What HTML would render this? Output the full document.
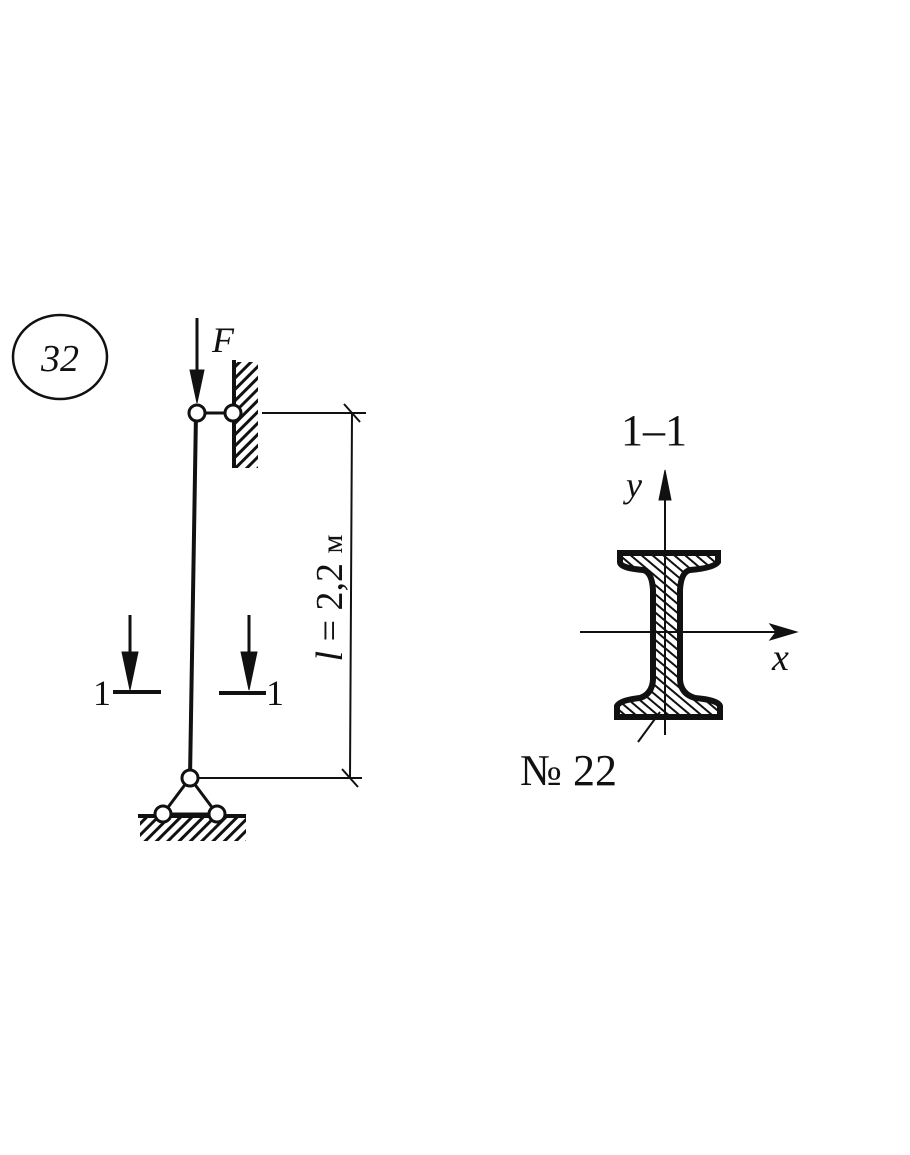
<!DOCTYPE html>
<html><head><meta charset="utf-8"><style>
html,body{margin:0;padding:0;background:#fff;}
svg{display:block}
text{font-family:"Liberation Serif",serif;fill:#111}
</style></head><body>
<svg width="910" height="1155" viewBox="0 0 910 1155" xmlns="http://www.w3.org/2000/svg">
<defs>
<pattern id="h" width="8" height="8" patternUnits="userSpaceOnUse" patternTransform="rotate(45)">
<rect width="3" height="8" fill="#111"/></pattern>
<pattern id="h2" width="7" height="7" patternUnits="userSpaceOnUse" patternTransform="rotate(-50)">
<rect width="2" height="7" fill="#111"/></pattern>
</defs>
<g stroke="#111" fill="none">
<ellipse cx="60" cy="357" rx="47" ry="42" stroke-width="2.5"/>
<line x1="197" y1="318" x2="197" y2="380" stroke-width="3"/>
<polygon points="190,370 204,370 197,403" fill="#111"/>
<rect x="236" y="362" width="22" height="106" fill="url(#h)" stroke="none"/>
<line x1="234" y1="360" x2="234" y2="468" stroke-width="4"/>
<line x1="197" y1="413" x2="233" y2="413" stroke-width="3"/>
<line x1="196" y1="413" x2="190" y2="778" stroke-width="4"/>
<line x1="262" y1="413" x2="366" y2="413" stroke-width="2"/>
<line x1="197" y1="778" x2="362" y2="778" stroke-width="2"/>
<line x1="352" y1="413" x2="350" y2="778" stroke-width="2"/>
<line x1="344" y1="404" x2="360" y2="422" stroke-width="2"/>
<line x1="342" y1="769" x2="358" y2="787" stroke-width="2"/>
<line x1="130" y1="615" x2="130" y2="660" stroke-width="3"/>
<polygon points="122,652 138,652 130,690" fill="#111"/>
<line x1="113" y1="692" x2="161" y2="692" stroke-width="4"/>
<line x1="249" y1="615" x2="249" y2="660" stroke-width="3"/>
<polygon points="241,652 257,652 249,690" fill="#111"/>
<line x1="219" y1="693" x2="266" y2="693" stroke-width="4"/>
<rect x="140" y="817" width="106" height="24" fill="url(#h)" stroke="none"/>
<line x1="138" y1="816" x2="246" y2="816" stroke-width="4"/>
<polygon points="190,778 163,814 217,814" stroke-width="3" fill="#fff"/>
<circle cx="163" cy="814" r="8" stroke-width="3" fill="#fff"/>
<circle cx="217" cy="814" r="8" stroke-width="3" fill="#fff"/>
<circle cx="190" cy="778" r="8" stroke-width="3" fill="#fff"/>
<circle cx="197" cy="413" r="8" stroke-width="3" fill="#fff"/>
<circle cx="233" cy="413" r="8" stroke-width="3" fill="#fff"/>
<path d="M620,553 L718,553 L718,562 Q714,568 690,570 Q681,572 680,590 L680,680 Q681,694 695,698 Q718,700 720,706 L720,717 L617,717 L617,706 Q620,700 640,698 Q652,694 653,680 L653,590 Q652,572 643,570 Q620,568 620,562 Z" fill="url(#h2)" stroke-width="6"/>
<line x1="665" y1="490" x2="665" y2="735" stroke-width="2"/>
<polygon points="659,500 671,500 665,470" fill="#111"/>
<line x1="580" y1="632" x2="780" y2="632" stroke-width="2"/>
<polygon points="770,624 797,632 770,640 776,632" fill="#111"/>
<line x1="638" y1="742" x2="660" y2="712" stroke-width="2"/>
</g>
<text x="60" y="371" font-size="38" font-style="italic" text-anchor="middle">32</text>
<text x="212" y="352" font-size="36" font-style="italic">F</text>
<text x="93" y="705" font-size="36">1</text>
<text x="266" y="705" font-size="36">1</text>
<text transform="translate(342,598) rotate(-90)" font-size="38" text-anchor="middle"><tspan font-style="italic">l</tspan> = 2,2 <tspan font-size="30">м</tspan></text>
<text x="654" y="445" font-size="44" text-anchor="middle">1–1</text>
<text x="626" y="497" font-size="36" font-style="italic">y</text>
<text x="772" y="670" font-size="38" font-style="italic">x</text>
<text x="520" y="785" font-size="44">№ 22</text>
</svg>
</body></html>
